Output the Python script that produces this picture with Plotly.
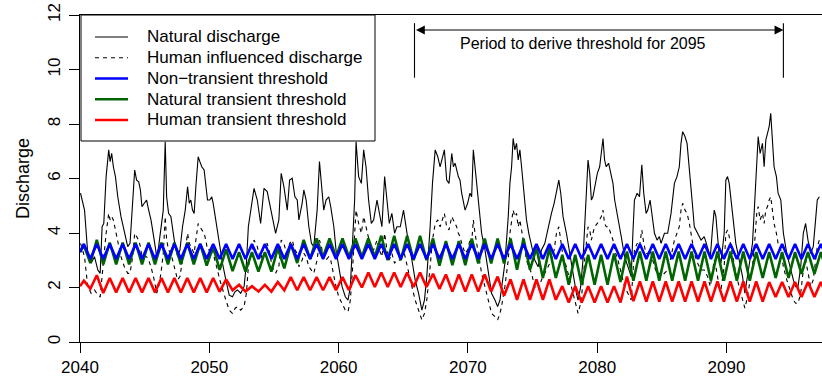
import plotly.graph_objects as go

# ---------------- data ----------------
# Discharge series: sampled time (decimal year), natural and human-influenced discharge
T_A = [2040.04, 2040.35, 2040.60, 2040.86, 2041.12, 2041.38, 2041.56, 2041.71, 2041.84, 2042.02,
       2042.22, 2042.33, 2042.45, 2042.58, 2042.74, 2042.92, 2043.17, 2043.43, 2043.69, 2043.87,
       2044.07, 2044.23, 2044.38, 2044.54, 2044.67, 2044.79, 2044.97, 2045.15, 2045.31, 2045.49,
       2045.74, 2045.93, 2046.08, 2046.26, 2046.44, 2046.59, 2046.70, 2046.85, 2047.03, 2047.29,
       2047.55, 2047.73, 2047.93, 2048.14, 2048.32, 2048.45, 2048.57, 2048.70, 2048.83, 2048.96,
       2049.14, 2049.27, 2049.42, 2049.60, 2049.73, 2049.86, 2050.04, 2050.19, 2050.30, 2050.45,
       2050.63, 2050.81, 2051.02, 2051.28, 2051.54, 2051.79, 2052.00, 2052.18, 2052.43, 2052.69,
       2052.87, 2053.02]
NAT_A = [5.46, 4.84, 3.25, 2.89, 3.13, 2.64, 2.52, 4.23, 4.35, 6.07,
         7.05, 6.62, 6.92, 6.43, 6.07, 5.33, 4.60, 3.99, 3.50, 3.62,
         5.09, 6.31, 5.94, 5.88, 5.58, 4.97, 5.09, 5.21, 4.84, 4.48,
         3.74, 3.13, 3.50, 4.11, 4.84, 7.35, 5.33, 4.72, 4.60, 3.74,
         3.13, 3.38, 4.23, 4.84, 5.70, 5.09, 5.21, 4.84, 4.72, 5.70,
         6.80, 6.62, 6.43, 6.31, 5.82, 5.21, 5.21, 5.33, 5.09, 4.60,
         3.99, 3.50, 2.89, 2.28, 1.72, 1.66, 1.85, 1.91, 1.79, 2.03,
         2.89, 4.23]
HUM_A = [3.62, 3.13, 2.03, 1.79, 1.91, 1.72, 1.66, 2.52, 3.01, 3.99,
         4.72, 4.48, 4.60, 4.48, 4.11, 3.74, 3.13, 2.76, 2.52, 2.52,
         3.13, 3.99, 3.87, 3.74, 3.50, 3.13, 3.13, 3.13, 3.01, 2.76,
         2.28, 1.79, 2.03, 2.52, 3.25, 4.60, 3.74, 3.38, 3.25, 2.76,
         2.28, 2.40, 3.01, 3.38, 3.99, 3.62, 3.50, 3.38, 3.25, 3.74,
         4.35, 4.23, 4.11, 3.99, 3.74, 3.38, 3.38, 3.50, 3.25, 3.01,
         2.64, 2.28, 1.91, 1.54, 1.17, 1.05, 1.24, 1.30, 1.17, 1.30,
         1.79, 2.76]

T_B = [2053.46, 2053.71, 2053.97, 2054.23, 2054.48, 2054.61, 2054.87, 2055.13, 2055.38, 2055.56,
       2055.77, 2056.03, 2056.21, 2056.41, 2056.62, 2056.80, 2056.93, 2057.18, 2057.31, 2057.49,
       2057.70, 2057.90, 2058.08, 2058.34, 2058.52, 2058.67, 2058.85, 2059.03, 2059.24, 2059.39,
       2059.63, 2059.80, 2060.01, 2060.27, 2060.52, 2060.73, 2060.91, 2061.09, 2061.24, 2061.35,
       2061.55, 2061.76, 2061.94, 2062.12, 2062.32, 2062.53, 2062.71, 2062.97, 2063.15, 2063.35,
       2063.56, 2063.74, 2063.92, 2064.12, 2064.33, 2064.51, 2064.77, 2065.02, 2065.20, 2065.41,
       2065.67, 2065.92, 2066.18, 2066.44, 2066.64, 2066.82, 2067.08, 2067.26, 2067.47, 2067.67,
       2067.85]
NAT_B = [5.64, 5.21, 4.35, 5.64, 5.52, 5.21, 4.60, 3.99, 4.48, 6.19,
         5.70, 4.84, 5.94, 6.01, 5.33, 5.21, 4.48, 5.09, 5.58, 5.21,
         4.23, 3.62, 3.50, 4.84, 6.62, 5.82, 4.84, 5.21, 5.33, 4.97,
         4.23, 3.38, 2.76, 2.03, 1.66, 1.54, 2.03, 3.74, 5.21, 7.35,
         6.07, 5.82, 7.05, 6.43, 5.21, 4.35, 4.48, 5.21, 4.72, 4.23,
         6.07, 5.09, 4.35, 4.72, 3.99, 4.23, 4.23, 4.84, 4.23, 3.62,
         3.01, 2.28, 1.79, 1.17, 1.54, 2.40, 4.23, 5.82, 7.05, 6.80,
         6.43]
HUM_B = [3.74, 3.50, 3.01, 3.50, 3.62, 3.38, 2.76, 2.52, 2.76, 3.74,
         3.62, 3.13, 3.62, 3.74, 3.38, 3.25, 2.76, 3.01, 3.25, 3.13,
         2.76, 2.64, 2.52, 3.01, 3.74, 3.50, 3.01, 3.01, 3.13, 3.01,
         2.40, 2.03, 1.66, 1.42, 1.17, 1.11, 1.54, 2.76, 3.74, 4.84,
         4.35, 3.99, 4.60, 4.23, 3.74, 3.38, 3.38, 3.74, 3.38, 3.13,
         3.99, 3.38, 3.01, 3.25, 2.89, 3.01, 3.01, 3.38, 3.01, 2.52,
         2.03, 1.54, 1.17, 0.81, 1.05, 1.54, 2.76, 3.74, 4.35, 4.48,
         4.23]

T_C = [2068.18, 2068.36, 2068.54, 2068.75, 2068.88, 2069.01, 2069.13, 2069.26, 2069.39, 2069.52,
       2069.78, 2069.98, 2070.16, 2070.29, 2070.42, 2070.55, 2070.68, 2070.80, 2070.93, 2071.06,
       2071.32, 2071.58, 2071.83, 2072.09, 2072.30, 2072.48, 2072.60, 2072.86, 2073.12, 2073.25,
       2073.38, 2073.50, 2073.63, 2073.76, 2073.89, 2074.02, 2074.15, 2074.28, 2074.40, 2074.53,
       2074.71, 2074.92, 2075.17, 2075.43, 2075.69, 2075.95, 2076.20, 2076.46, 2076.67, 2076.85,
       2077.03, 2077.18, 2077.36, 2077.62, 2077.87, 2078.13, 2078.39, 2078.52, 2078.72, 2078.90,
       2079.03, 2079.16, 2079.29, 2079.42, 2079.55, 2079.67, 2079.80, 2080.01, 2080.19, 2080.32,
       2080.45, 2080.57, 2080.70, 2080.88, 2081.04, 2081.22, 2081.35, 2081.60, 2081.86, 2082.12,
       2082.37, 2082.63]
NAT_C = [7.05, 5.94, 5.82, 6.92, 6.43, 6.56, 6.31, 6.07, 5.94, 5.46,
         4.84, 5.09, 5.46, 5.33, 7.05, 6.43, 5.82, 5.21, 4.48, 3.99,
         3.38, 2.52, 1.79, 1.54, 1.30, 1.54, 2.03, 2.89, 4.60, 5.82,
         6.43, 7.47, 7.05, 7.29, 6.68, 7.05, 6.43, 5.70, 4.97, 4.48,
         3.99, 3.50, 3.01, 2.76, 3.38, 3.62, 4.23, 4.72, 5.09, 5.58,
         5.94, 5.46, 4.60, 3.99, 3.25, 2.40, 1.79, 1.54, 2.03, 3.01,
         4.23, 5.82, 6.68, 6.19, 5.21, 5.33, 5.70, 6.19, 6.43, 7.05,
         7.47, 6.68, 6.43, 6.56, 6.19, 5.82, 5.21, 4.60, 3.87, 3.13,
         2.76, 2.40]
HUM_C = [4.72, 4.23, 4.11, 4.60, 4.48, 4.35, 4.23, 3.99, 3.87, 3.62,
         3.25, 3.38, 3.74, 3.62, 4.48, 3.99, 3.62, 3.13, 2.76, 2.52,
         2.03, 1.54, 1.05, 0.93, 0.81, 1.05, 1.30, 2.03, 3.01, 3.99,
         4.48, 4.84, 4.60, 4.72, 4.23, 4.48, 4.11, 3.74, 3.38, 3.01,
         2.76, 2.52, 2.03, 1.91, 2.28, 2.52, 2.76, 3.01, 3.38, 3.99,
         4.23, 3.74, 3.13, 2.76, 2.28, 1.79, 1.30, 1.05, 1.42, 2.15,
         3.01, 3.74, 4.23, 4.11, 3.74, 3.99, 4.23, 4.35, 4.48, 4.60,
         4.84, 4.35, 4.23, 4.23, 3.99, 3.74, 3.38, 3.01, 2.52, 2.03,
         1.79, 1.54]

T_D = [2082.76, 2082.88, 2083.09, 2083.27, 2083.45, 2083.60, 2083.78, 2083.91, 2084.09, 2084.22,
       2084.43, 2084.63, 2084.81, 2084.94, 2085.20, 2085.45, 2085.71, 2085.97, 2086.17, 2086.35,
       2086.48, 2086.61, 2086.79, 2086.95, 2087.13, 2087.25, 2087.38, 2087.51, 2087.77, 2088.03,
       2088.28, 2088.54, 2088.75, 2088.93, 2089.05, 2089.18, 2089.31, 2089.44, 2089.57, 2089.82,
       2089.95, 2090.08, 2090.21, 2090.34, 2090.54, 2090.72, 2090.98, 2091.24, 2091.42, 2091.57,
       2091.75, 2092.01, 2092.19, 2092.34, 2092.45, 2092.60, 2092.78, 2092.91, 2093.04, 2093.17,
       2093.30, 2093.42, 2093.55, 2093.68, 2093.86, 2093.99, 2094.20, 2094.40, 2094.66, 2094.91,
       2095.17, 2095.35, 2095.53, 2095.74, 2095.94, 2096.12, 2096.30, 2096.51, 2096.71, 2096.89,
       2097.02, 2097.18]
NAT_D = [3.99, 5.21, 5.46, 5.33, 6.50, 5.46, 4.72, 4.84, 5.21, 4.72,
         3.99, 3.74, 3.87, 3.62, 3.99, 3.99, 4.72, 5.82, 6.07, 6.43,
         7.29, 7.72, 7.54, 7.29, 6.43, 5.82, 4.97, 4.23, 3.99, 3.74,
         3.87, 3.50, 3.13, 4.23, 4.84, 4.60, 3.74, 3.13, 2.89, 3.99,
         5.94, 6.07, 5.82, 5.21, 4.23, 3.62, 3.01, 2.40, 1.79, 2.28,
         2.89, 3.62, 5.21, 6.68, 7.54, 6.92, 7.29, 6.43, 7.41, 7.66,
         7.90, 8.39, 7.41, 6.43, 6.07, 5.46, 5.21, 3.99, 3.25, 2.76,
         2.28, 2.03, 2.03, 2.76, 3.99, 4.35, 3.74, 3.25, 3.50, 4.48,
         5.21, 5.33]
HUM_D = [2.52, 3.38, 3.62, 3.50, 4.11, 3.62, 3.25, 3.25, 3.38, 3.13,
         2.76, 2.52, 2.52, 2.40, 2.52, 2.64, 3.13, 3.74, 3.99, 4.23,
         4.84, 5.09, 4.84, 4.72, 4.35, 3.99, 3.62, 3.25, 2.89, 2.64,
         2.64, 2.40, 2.03, 2.52, 3.01, 2.76, 2.40, 2.03, 1.91, 2.76,
         3.99, 4.11, 3.87, 3.50, 3.01, 2.52, 2.03, 1.54, 1.24, 1.54,
         2.03, 2.76, 3.74, 4.72, 4.97, 4.48, 4.72, 4.35, 4.84, 4.97,
         5.21, 5.33, 4.84, 4.35, 3.99, 3.62, 3.38, 2.76, 2.28, 1.91,
         1.54, 1.42, 1.42, 1.79, 2.64, 3.01, 2.52, 2.03, 2.28, 3.01,
         3.50, 3.74]

# Thresholds: one seasonal high and low per year, 2040..2097
THR_YEARS = list(range(2040, 2098))
BLUE_START, GREEN_START, RED_START = 3.30, 3.30, 2.05
BLUE_HIGH = [3.60, 3.60, 3.60, 3.60, 3.60, 3.60, 3.60, 3.60, 3.60, 3.60,
             3.60, 3.60, 3.60, 3.60, 3.60, 3.60, 3.60, 3.60, 3.60, 3.60,
             3.60, 3.60, 3.60, 3.60, 3.60, 3.60, 3.60, 3.60, 3.60, 3.60,
             3.60, 3.60, 3.60, 3.60, 3.60, 3.60, 3.60, 3.60, 3.60, 3.60,
             3.60, 3.60, 3.60, 3.60, 3.60, 3.60, 3.60, 3.60, 3.60, 3.60,
             3.60, 3.60, 3.60, 3.60, 3.60, 3.60, 3.60, 3.60]
BLUE_LOW = [3.05, 3.05, 3.05, 3.05, 3.05, 3.05, 3.05, 3.05, 3.05, 3.05,
            3.05, 3.05, 3.05, 3.05, 3.05, 3.05, 3.05, 3.05, 3.05, 3.05,
            3.05, 3.05, 3.05, 3.05, 3.05, 3.05, 3.05, 3.05, 3.05, 3.05,
            3.05, 3.05, 3.05, 3.05, 3.05, 3.05, 3.05, 3.05, 3.05, 3.05,
            3.05, 3.05, 3.05, 3.05, 3.05, 3.05, 3.05, 3.05, 3.05, 3.05,
            3.05, 3.05, 3.05, 3.05, 3.05, 3.05, 3.05, 3.05]
GREEN_HIGH = [3.55, 3.75, 3.65, 3.65, 3.65, 3.65, 3.65, 3.65, 3.65, 3.60,
              3.50, 3.40, 3.30, 3.30, 3.30, 3.45, 3.60, 3.75, 3.80, 3.80,
              3.80, 3.80, 3.80, 3.90, 3.90, 3.90, 3.90, 3.80, 3.70, 3.70,
              3.80, 3.80, 3.80, 3.80, 3.80, 3.45, 3.45, 3.20, 3.20, 3.20,
              3.20, 3.25, 3.32, 3.32, 3.32, 3.32, 3.32, 3.32, 3.32, 3.32,
              3.32, 3.32, 3.30, 3.30, 3.30, 3.30, 3.30, 3.30]
GREEN_LOW = [2.90, 2.85, 2.85, 2.85, 2.85, 2.85, 2.85, 2.85, 2.85, 2.80,
             2.65, 2.60, 2.58, 2.58, 2.58, 2.70, 2.90, 3.05, 3.12, 3.12,
             3.12, 3.12, 3.12, 3.00, 3.00, 3.00, 3.00, 2.80, 2.82, 2.82,
             2.88, 2.88, 2.88, 2.65, 2.65, 2.35, 2.35, 2.10, 2.10, 2.10,
             2.10, 2.20, 2.25, 2.25, 2.25, 2.25, 2.25, 2.25, 2.25, 2.25,
             2.25, 2.25, 2.35, 2.35, 2.35, 2.50, 2.50, 2.50]
RED_HIGH = [2.25, 2.45, 2.35, 2.35, 2.35, 2.35, 2.35, 2.35, 2.35, 2.35,
            2.35, 2.30, 2.10, 2.05, 2.10, 2.20, 2.38, 2.38, 2.38, 2.38,
            2.38, 2.45, 2.55, 2.55, 2.55, 2.55, 2.55, 2.50, 2.48, 2.48,
            2.48, 2.48, 2.40, 2.30, 2.30, 2.30, 2.30, 2.05, 2.05, 2.05,
            2.05, 2.05, 2.40, 2.22, 2.22, 2.22, 2.22, 2.22, 2.22, 2.22,
            2.22, 2.22, 2.22, 2.20, 2.20, 2.20, 2.20, 2.20]
RED_LOW = [1.95, 1.80, 1.82, 1.82, 1.82, 1.82, 1.82, 1.82, 1.82, 1.82,
           1.85, 1.90, 1.85, 1.85, 1.85, 1.90, 1.90, 1.90, 1.90, 1.90,
           1.90, 2.00, 2.02, 2.02, 2.02, 2.02, 2.02, 1.95, 1.85, 1.85,
           1.85, 1.85, 1.70, 1.55, 1.55, 1.55, 1.55, 1.45, 1.45, 1.45,
           1.45, 1.45, 1.50, 1.48, 1.48, 1.48, 1.48, 1.48, 1.48, 1.48,
           1.48, 1.48, 1.48, 1.65, 1.65, 1.65, 1.65, 1.65]

X_TICKS = [2040, 2050, 2060, 2070, 2080, 2090]
Y_TICKS = [0, 2, 4, 6, 8, 10, 12]
PERIOD_START, PERIOD_END = 2065.87, 2094.4
PERIOD_TEXT = "Period to derive threshold for 2095"
LEGEND_NAMES = ["Natural discharge", "Human influenced discharge", "Non\u2212transient threshold",
                "Natural transient threshold", "Human transient threshold"]

# ---------------- figure ----------------
W, H = 822, 382
ML, MR, MT, MB = 80, 0, 15, 40
PW, PH = W - ML - MR, H - MT - MB
X_RANGE = [2040, 2040 + PW / 12.93]
FONT = "Liberation Sans, Arial, sans-serif"


def px_x(p):
    return (p - ML) / PW


def px_y(p):
    return (H - MB - p) / PH


def seasonal(start, highs, lows):
    xs, ys = [THR_YEARS[0]], [start]
    for yr, hi, lo in zip(THR_YEARS, highs, lows):
        xs += [yr + 0.3, yr + 0.8]
        ys += [hi, lo]
    return xs, ys


T_ALL = T_A + T_B + T_C + T_D
NAT_ALL = NAT_A + NAT_B + NAT_C + NAT_D
HUM_ALL = HUM_A + HUM_B + HUM_C + HUM_D

fig = go.Figure()
fig.add_trace(go.Scatter(x=T_ALL, y=NAT_ALL, mode="lines",
                         line=dict(color="black", width=1.1), showlegend=False))
fig.add_trace(go.Scatter(x=T_ALL, y=HUM_ALL, mode="lines",
                         line=dict(color="black", width=1.1, dash="4px,4px"), showlegend=False))
rx, ry = seasonal(RED_START, RED_HIGH, RED_LOW)
fig.add_trace(go.Scatter(x=rx, y=ry, mode="lines", line=dict(color="#FF0000", width=2.6),
                         showlegend=False))
gx, gy = seasonal(GREEN_START, GREEN_HIGH, GREEN_LOW)
fig.add_trace(go.Scatter(x=gx, y=gy, mode="lines", line=dict(color="#006400", width=2.6),
                         showlegend=False))
bx, by = seasonal(BLUE_START, BLUE_HIGH, BLUE_LOW)
fig.add_trace(go.Scatter(x=bx, y=by, mode="lines", line=dict(color="#0000FF", width=2.6),
                         showlegend=False))

shapes = []
annotations = []

# period marker
for xv in (PERIOD_START, PERIOD_END):
    shapes.append(dict(type="line", xref="x", yref="y", x0=xv, x1=xv, y0=9.7, y1=11.7,
                       line=dict(color="black", width=1.1)))
annotations.append(dict(x=PERIOD_END, y=11.45, ax=PERIOD_START, ay=11.45, xref="x", yref="y",
                        axref="x", ayref="y", text="", showarrow=True, arrowside="end+start",
                        arrowhead=2, arrowsize=1.6, arrowwidth=1.1, arrowcolor="black",
                        standoff=0, startstandoff=0))
annotations.append(dict(x=2078.9, y=10.97, xref="x", yref="y", text=PERIOD_TEXT, showarrow=False,
                        font=dict(family=FONT, size=16, color="black")))

# legend box
shapes.append(dict(type="rect", xref="paper", yref="paper", x0=px_x(81), x1=px_x(375),
                   y0=px_y(141), y1=px_y(15), fillcolor="white",
                   line=dict(color="black", width=1), layer="above"))
row_y = [37, 57.8, 78.5, 99.3, 120]
styles = [dict(color="black", width=1.1), dict(color="black", width=1.1, dash="4px,4px"),
          dict(color="#0000FF", width=2.6), dict(color="#006400", width=2.6),
          dict(color="#FF0000", width=2.6)]
for ry_, st, name in zip(row_y, styles, LEGEND_NAMES):
    shapes.append(dict(type="line", xref="paper", yref="paper", x0=px_x(95), x1=px_x(128),
                       y0=px_y(ry_), y1=px_y(ry_), line=st, layer="above"))
    annotations.append(dict(x=px_x(145), y=px_y(ry_), xref="paper", yref="paper", text=name,
                            showarrow=False, xanchor="left", yanchor="middle",
                            font=dict(family=FONT, size=17, color="black")))

fig.update_layout(
    width=W, height=H, margin=dict(l=ML, r=MR, t=MT, b=MB, pad=0, autoexpand=False),
    paper_bgcolor="white", plot_bgcolor="white",
    font=dict(family=FONT, size=17, color="black"),
    shapes=shapes, annotations=annotations, showlegend=False,
    xaxis=dict(range=X_RANGE, tickvals=X_TICKS, ticktext=[str(v) for v in X_TICKS],
               ticks="outside", ticklen=10, tickwidth=1, tickcolor="black",
               ticklabelstandoff=0, automargin=False,
               showline=True, linecolor="black", linewidth=1, mirror=True,
               showgrid=False, zeroline=False, tickfont=dict(size=17)),
    yaxis=dict(range=[0, 12], tickvals=Y_TICKS, ticktext=[str(v) for v in Y_TICKS],
               ticks="outside", ticklen=10, tickwidth=1, tickcolor="black", tickangle=-90,
               ticklabelstandoff=2, automargin=False,
               showline=True, linecolor="black", linewidth=1,
               showgrid=False, zeroline=False, tickfont=dict(size=17),
               title=dict(text="Discharge", font=dict(size=18), standoff=10)),
)

fig.write_html("out.html")
